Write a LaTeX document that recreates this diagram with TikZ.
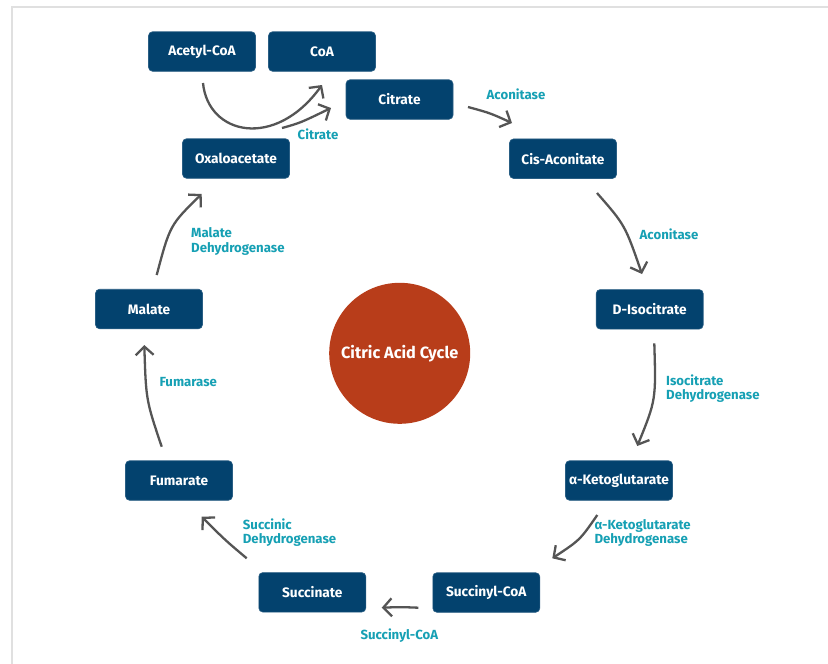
\documentclass[tikz,border=0pt]{standalone}
\usepackage{fontspec}
\setmainfont{Fira Sans}
\usetikzlibrary{arrows.meta}
\definecolor{navy}{RGB}{3,66,110}
\definecolor{rust}{RGB}{184,61,26}
\definecolor{teal}{RGB}{22,160,180}
\definecolor{arrowgray}{RGB}{85,85,85}
\definecolor{frame}{RGB}{224,224,224}
\tikzset{
  box/.style={draw=navy!85!white, line width=0.6pt, fill=navy, rounded corners=4pt, minimum width=107pt, minimum height=39.5pt, inner sep=0pt, text=white, font=\bfseries\fontsize{13.7}{16}\selectfont},
  enz/.style={text=teal, font=\bfseries\fontsize{13.2}{14.4}\selectfont, align=left, inner sep=0pt},
  flow/.style={draw=arrowgray, line width=2.3pt, -{Straight Barb[length=8.5pt,width=18pt,line width=2.3pt]}},
}
\begin{document}
\begin{tikzpicture}[x=1pt,y=-1pt]
\useasboundingbox (0,0) rectangle (828,664);
\fill[white] (0,0) rectangle (828,664);
\draw[frame, line width=2pt] (11.5,664) -- (11.5,6.5) -- (828,6.5);

\node[box] (acetyl) at (202,51.5) {Acetyl-CoA};
\node[box] (coa) at (322,51.5) {CoA};
\node[box] (citrate) at (399.5,99.5) {Citrate};
\node[box] (oxalo) at (236,158.5) {Oxaloacetate};
\node[box] (cis) at (563,158.7) {Cis-Aconitate};
\node[box] (diso) at (649.7,309.3) {D-Isocitrate};
\node[box] (malate) at (149,309) {Malate};
\node[box] (fumarate) at (179,480.5) {Fumarate};
\node[box] (akg) at (619,480.5) {α-Ketoglutarate};
\node[box] (succoa) at (486.3,592.5) {Succinyl-CoA};
\node[box] (succinate) at (312.3,592.3) {Succinate};

\node[circle, fill=rust, minimum size=141pt, inner sep=0pt, text=white, font=\bfseries\fontsize{16.3}{19}\selectfont] (cycle) at (399.7,353.3) {Citric Acid Cycle};

% connectors
\coordinate (a1) at (203,83);
\coordinate (a2) at (322,85);
\coordinate (b1) at (282,128);
\coordinate (b2) at (331,108);
\draw[flow] (a1) .. controls (208,135) and (275,150) .. (a2);
\draw[flow] (b1) .. controls (300,123) .. (b2);
\node[enz] (lcit) at (318,134) {Citrate};

\coordinate (c1) at (468,107);
\coordinate (c2) at (512,123);
\draw[flow] (c1) .. controls (490,113) .. (c2);
\node[enz] (lacon1) at (516,94.3) {Aconitase};

\coordinate (d1) at (597,193);
\coordinate (d2) at (642,274);
\draw[flow] (d1) .. controls (625,225) .. (d2);
\node[enz] (lacon2) at (669,234.3) {Aconitase};

\coordinate (e1) at (654.3,343.3);
\coordinate (e2) at (637.3,446);
\draw[flow] (e1) .. controls (656,400) .. (e2);
\node[enz, anchor=west] (liso) at (666,388.5) {Isocitrate\\Dehydrogenase};

\coordinate (f1) at (597.3,515);
\coordinate (f2) at (552.3,558.3);
\draw[flow] (f1) .. controls (580,540) .. (f2);
\node[enz, anchor=west] (lakg) at (594.3,533) {α-Ketoglutarate\\Dehydrogenase};

\coordinate (g1) at (418.3,607.7);
\coordinate (g2) at (381.7,607.7);
\draw[flow] (g1) .. controls (400,607) .. (g2);
\node[enz] (lsuc) at (399.3,636) {Succinyl-CoA};

\coordinate (h1) at (246.7,558.3);
\coordinate (h2) at (201.7,516.7);
\draw[flow] (h1) .. controls (225,540) .. (h2);
\node[enz, anchor=west] (lsdh) at (242.7,532.5) {Succinic\\Dehydrogenase};

\coordinate (i1) at (161.7,446.7);
\coordinate (i2) at (144.3,345);
\draw[flow] (i1) .. controls (146,400) .. (i2);
\node[enz, anchor=west] (lfum) at (159.3,381.7) {Fumarase};

\coordinate (j1) at (156.7,275);
\coordinate (j2) at (201.7,194);
\draw[flow] (j1) .. controls (170,225) .. (j2);
\node[enz, anchor=west] (lmdh) at (191,241.5) {Malate\\Dehydrogenase};
\end{tikzpicture}
\end{document}
